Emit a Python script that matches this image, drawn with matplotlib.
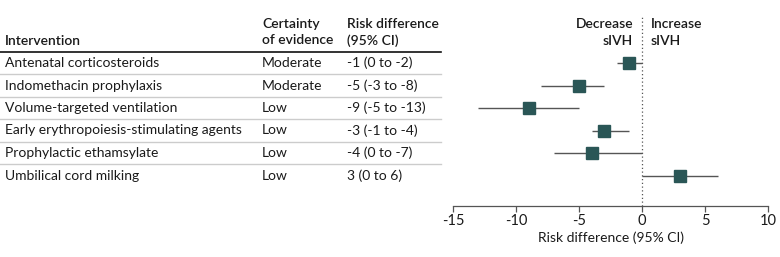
import numpy as np
import matplotlib
matplotlib.use("Agg")
import matplotlib.pyplot as plt
import matplotlib.transforms as mtransforms
from matplotlib.lines import Line2D

plt.rcParams["font.family"] = ["Lato", "DejaVu Sans"]
plt.rcParams["axes.unicode_minus"] = False

# data
interventions = [
    "Antenatal corticosteroids",
    "Indomethacin prophylaxis",
    "Volume-targeted ventilation",
    "Early erythropoiesis-stimulating agents",
    "Prophylactic ethamsylate",
    "Umbilical cord milking",
]
certainty = ["Moderate", "Moderate", "Low", "Low", "Low", "Low"]
rd = [-1, -5, -9, -3, -4, 3]
ci_low = [-2, -8, -13, -4, -7, 0]
ci_high = [0, -3, -5, -1, 0, 6]
rd_labels = ["-1 (0 to -2)", "-5 (-3 to -8)", "-9 (-5 to -13)",
             "-3 (-1 to -4)", "-4 (0 to -7)", "3 (0 to 6)"]
xticks = [-15, -10, -5, 0, 5, 10]

W, H = 780, 257
MARKER = "#2a5656"
LINE = "#555555"
TXT = "#1a1a1a"

fig = plt.figure(figsize=(W / 100, H / 100), dpi=100)


def fx(px):
    return px / W


def fy(py):
    return 1 - py / H


# forest axis: x -15..10 spans px 453..768, rows at 63 + 22.5*i
row0, step = 63.0, 22.5
top_px, bot_px = 15.0, 206.0
ax = fig.add_axes([fx(453), fy(bot_px), fx(768) - fx(453), (bot_px - top_px) / H])
ax.set_xlim(-15, 10)
ax.set_ylim((bot_px - row0) / step, (top_px - row0) / step)

y = np.arange(len(interventions))
ax.hlines(y, ci_low, ci_high, color=LINE, lw=1.0, zorder=2)
ax.plot(rd, y, ls="none", marker="s", ms=9, color=MARKER, zorder=3)
ax.axvline(0, color="#555555", lw=0.9, ls=(0, (1, 2)), zorder=1)

for s in ["top", "right", "left"]:
    ax.spines[s].set_visible(False)
ax.spines["bottom"].set_color("#555555")
ax.spines["bottom"].set_linewidth(0.9)
ax.set_yticks([])
ax.set_xticks(xticks)
ax.set_xticklabels([str(t) for t in xticks])
ax.tick_params(axis="x", direction="out", length=4, width=0.9, color="#555555",
               labelsize=10.5, labelcolor=TXT, pad=2)
ax.set_xlabel("Risk difference (95% CI)", fontsize=10, color=TXT, labelpad=2)

hdr = (32.5 - row0) / step
ax.text(-0.7, hdr, "Decrease\nsIVH", ha="right", va="center", fontsize=10,
        fontweight="semibold", color=TXT, linespacing=1.45)
ax.text(0.7, hdr, "Increase\nsIVH", ha="left", va="center", fontsize=10,
        fontweight="semibold", color=TXT, linespacing=1.45)

# table on the left
tr = mtransforms.blended_transform_factory(fig.transFigure, ax.transData)
fs = 10
for i in range(len(interventions)):
    fig.text(fx(5), 0, interventions[i], transform=tr, fontsize=fs, color=TXT,
             va="center", ha="left").set_y(i)
    fig.text(fx(262), 0, certainty[i], transform=tr, fontsize=fs, color=TXT,
             va="center", ha="left").set_y(i)
    fig.text(fx(347), 0, rd_labels[i], transform=tr, fontsize=fs, color=TXT,
             va="center", ha="left").set_y(i)

for i in range(len(interventions) - 1):
    fig.add_artist(Line2D([0, fx(441)], [i + 0.5, i + 0.5], transform=tr,
                          color="#cccccc", lw=1.0))
fig.add_artist(Line2D([0, fx(441)], [fy(52), fy(52)], color="#111111", lw=1.2))

fig.text(fx(5), fy(41), "Intervention", fontsize=fs, fontweight="semibold",
         color=TXT, va="center", ha="left")
fig.text(fx(262), fy(32.5), "Certainty\nof evidence", fontsize=fs,
         fontweight="semibold", color=TXT, va="center", ha="left", linespacing=1.4)
fig.text(fx(347), fy(32.5), "Risk difference\n(95% CI)", fontsize=fs,
         fontweight="semibold", color=TXT, va="center", ha="left", linespacing=1.4)

fig.savefig("out.png", dpi=100)
